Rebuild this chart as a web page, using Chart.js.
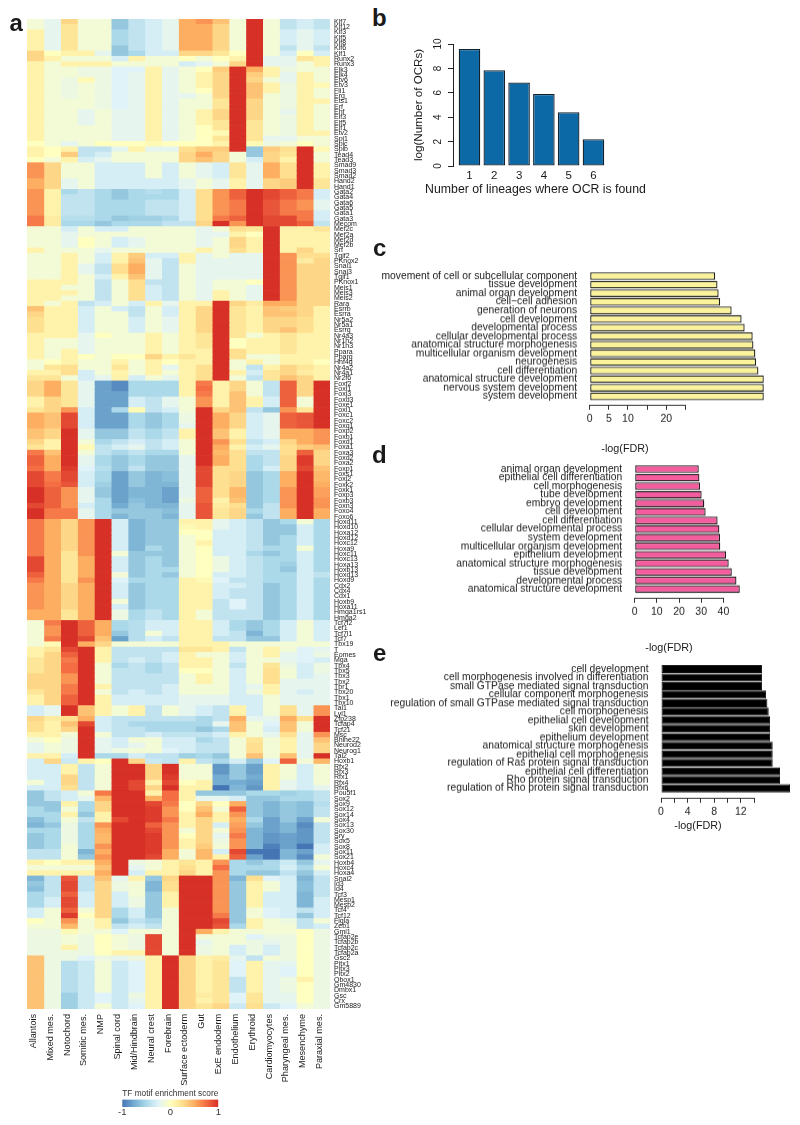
<!DOCTYPE html>
<html>
<head>
<meta charset="utf-8">
<title>TF motif enrichment</title>
<script src="https://cdn.jsdelivr.net/npm/chart.js@4/dist/chart.umd.min.js"></script>
<style>
html,body{margin:0;padding:0;background:#fff;width:800px;height:1125px;overflow:hidden;font-family:"Liberation Sans",Arial,sans-serif;color:#1a1a1a}
canvas{position:absolute;display:block}
.t{position:absolute;white-space:nowrap;line-height:1}
</style>
</head>
<body>
<script>
// ---------- panel a: heat map ----------
const heatColumns = ["Allantois","Mixed mes.","Notochord","Somitic mes.","NMP","Spinal cord","Mid/Hindbrain","Neural crest","Forebrain","Surface ectoderm","Gut","ExE endoderm","Endothelium","Erythroid","Cardiomyocytes","Pharyngeal mes.","Mesenchyme","Paraxial mes."];
const heatRowLabels = ["Klf7","Klf12","Klf3","Klf5","Klf8","Klf6","Klf1","Runx2","Runx3",
"Elk3","Elk4","Etv6","Etv3","Fli1","Erg","Ets1","Erf","Ehf","Elf3","Elf5","Elf1","Etv2","Spi1","Spic","Spib",
"Tead4","Tead3","Smad9","Smad3","Smad2","Hand2","Hand1","Gata2","Gata4","Gata6","Gata5","Gata1","Gata3","Mecom",
"Mef2c","Mef2a","Mef2d","Mef2b","Srf","Tgif2","PKnox2","Snai1","Snai3","Tgif1","PKnox1","Meis1","Meis3","Meis2",
"Rara","Esrrb","Esrra","Nr5a2","Nr5a1","Esrrg","Nr4a3","Nr1h2","Nr1h3","Ppara","Pparg","Hnf4g","Nr4a2","Nr4a1","Nr2f6",
"Foxf2","Foxl1","Foxj3","Foxd3","Foxe1","Foxi1","Foxc1","Foxc2","Foxq1","Foxp2","Foxb1","Foxd1","Foxa1","Foxa3","Foxd2","Foxa2","Foxp1","Foxs1","Foxj2","Foxk2","Foxk1","Foxp3","Foxb3","Foxn3","Foxo4","Foxo6",
"Hoxd11","Hoxd10","Hoxa12","Hoxd12","Hoxc12","Hoxa9","Hoxc11","Hoxc13","Hoxa13","Hoxb13","Hoxd13","Hoxd9","Cdx2","Cdx4","Cdx1","Hoxb9","Hoxa11","Hmga1rs1","Hmga2",
"Tcf7l2","Lef1","Tcf7l1","Tcf7","Tbx19","T","Eomes","Mga","Tbx4","Tbx5","Tbx3","Tbx2","Tbr1","Tbx20","Tbx1","Tbx10","Tal1","Lyl1","Zfp238","Tcfap4","Tcf21","Msc","Bhlhe22","Neurod2","Neurog1","Tal2",
"Hoxb1","Rfx2","Rfx3","Rfx1","Rfx4","Rfx6","Pou5f1","Sox2","Sox9","Sox12","Sox14","Sox4","Sox13","Sox30","Sry","Sox5","Sox8","Sox11","Sox21","Hoxb4","Hoxc4","Hoxa4","Snai2",
"Id3","Id4","Tcf3","Mesp1","Mesp2","Tcf4","Tcf12","Figla","Zeb1","Gmi1","Tcfap2e","Tcfap2b","Tcfap2c","Tcfap2a","Gsc2","Pitx1","Pitx3","Pitx2","Obox1","Gm4830","Dmbx1","Gsc","Crx","Gm5889"];

// enrichment score x 10, one row per motif, in heatColumns order
const scoresKlfRunx = [
[-1,-2,3,-1,-1,-6,-4,-3,-2,5,6,4,-1,10,-1,-4,-3,-4],
[-1,-2,2,-1,-1,-6,-4,-3,-2,5,5,3,-1,10,-1,-4,-3,-4],
[1,-2,2,-1,-1,-5,-4,-3,-2,5,5,3,-1,10,-1,-3,-2,-3],
[1,-2,2,-1,-1,-5,-4,-3,-2,5,5,3,-1,10,-1,-3,-2,-3],
[1,-2,2,-1,-1,-5,-4,-3,-2,5,5,3,-1,10,-1,-3,-2,-3],
[1,-2,2,-1,-1,-6,-4,-3,-2,5,5,3,-1,10,-1,-4,-2,-4],
[3,0,1,1,-2,-6,-5,-3,-3,3,3,2,0,10,-1,-3,0,-3],
[3,1,-1,-1,-1,-3,1,-1,-1,0,-1,0,1,10,-2,-2,2,1],
[1,-1,1,1,1,-1,-1,-1,-1,-3,-2,-1,3,10,-2,-2,-1,1]];
const scoresEts = [
[1,-1,-1,-1.5,-1.5,-2.5,-2.5,1,-2,-1,0,3.5,10,5,1,-1.5,-1,-1],
[1,-1,-1,-1.5,-1.5,-2.5,-2,1,-2,-1,1,3,10,3.5,1,-2,1,-1],
[1,-1,-1.5,0.5,-1.5,-2.5,-2,1,-2,-1,1,3,10,3,-1,-2,1,-1],
[1,-1,-1.5,-1,-1.5,-2.5,-2,1,-2,-1,1,3,10,4,1,-1.5,1,0.5],
[1,-1,-1.5,-1,-1.5,-2.5,-2,1,-2,-1,0,3,10,4,1,-1.5,1,-1],
[1,-1,-1.5,-1,-1.5,-2.5,-2,1,-2,-2,-1,3,10,4,-1,-1.5,1,-1],
[1,-1,-1,-1,-1.5,-2.5,-2,1,-2,-1,-1,2,10,3,-1,-1.5,1,1],
[1,-1,-1,-1,-1.5,-2.5,-2,1,-2,-1,-1,2,10,3,-1,-1.5,1,-1],
[1,-1,-1,-2,-1,-2,-2,1,-2,-1,1,3,10,3,-1,-2,1,-1],
[1,-1,-1,-2,-1,-2,-2,1,-2,-1,1,3,10,3,-1,-1.5,1,-1],
[1,-1,-1,-2,-1,-2,-2,1,-2,-1,1,2,10,2,-1,-1.5,1,-1],
[1,-1,-1,-1,-1,-2,-2,1,-2,-1,0,2,10,2,-1,-1.5,1,-1],
[1,-1,-1,-1,-1,-2,-2,1,-2,-1,0,0.5,10,2,-1,-1.5,1,1],
[1,-1,-1,-1,-1,-2,-2,1,-2,-1,0,2,10,2,-2,-2,-1,-1],
[0,-1,-2,-1,0,0,0,0.5,0,0,0,1,10,0.5,-1.5,-1,0,-1],
[1,0,1,-4,-4,-2,1,-2,-2,2.5,3.5,3.5,10,-6,3.5,2.5,10,0.5]];
const scoresTeadSmadHand = [
[1,0,3.5,-4,-3,-1,-1,-1,-1,3,5,3,-1,-6,3,2,10,-1],
[0,-1,1,-3,-2,-1,-1,-1,-1,3,4,3,-1,-3,3,1,10,-1],
[6,3,-1,-1,-3,-3,-3,-1,-3,-1,-2,-3,2,-2,5,2.5,10,1],
[6,3,-1,-1,-3,-3,-3,-1,-3,-1,-2,-3,2,-2,5,2.5,10,1],
[6,3,-1,-1,-3,-3,-3,-1,-3,-1,-2,-3,2,-2,5,2.5,10,1],
[5,3,-2,-1,-3,-3,-3,-3,-3,-2,-1,-2,1,-2,3,3.5,10,2],
[5,3,-2,-1,-3,-3,-3,-3,-3,-2,-1,-2,1,-2,3,3.5,10,2]];
const scoresGata = [
[6,1,-5,-4,-5,-6,-5,-4.5,-5,-3,2.5,6,8,10,9,8,7,-3],
[6,1,-4,-4,-5,-6,-5,-5,-5,-3,2.5,6,8,10,9,8,7,-3],
[6,1,-4,-4,-5,-5,-5,-4,-4,-3,2.5,6,7,10,8.5,7,6,-2],
[6,1,-4,-4,-5,-5,-5,-4,-4,-3,2.5,6,7,10,8.5,7,6,-2],
[6,1,-4,-4,-5,-5,-5,-4,-4,-3,2.5,6,7,10,8.5,7,7,-3],
[7,1.5,-4.5,-4.5,-5,-6,-5.5,-5.5,-5,-3,2.5,7,8,10,9,9,7,-3],
[7,1.5,-5,-5,-6,-5,-5,-5,-4,-4,3,10,6,10,9,9,8,-4]];
const scoresMef = [
[-1,-1,-3,-1,-3,-3,-1,-1,-1,-1,-2,-1,2.5,2,10,1,1,2],
[-1,-1,-2,-1,-1,-1,-1,-1,-1,-1,-2,-2,1,0,10,1,1,1],
[-1,-1,-2,0,-1,-3,-2,-1,-1,-1,-2,-1,3,1,10,1,1,1],
[-1,-1,-2,0,-1,-3,-2,-1,-1,-1,-2,-1,3,1,10,1,1,1],
[1,-1,-1,-1,-2,-1,-1,-1,-1,-1,1,-1,2.5,1,10,1,3,1]];
const scoresTgifMeis = [
[-1,-1,1,-1,-3,1,3.5,-3,-3,1,-2,-1,-2,-2,10,6,2.5,2.5],
[-1,-1,1,-1,-3,1,4,-2,-4,1,-2,-2,-2,-2,10,6,1.5,3],
[-1,-1,1,-2,-4,2.5,5,-2,-4,-1,-2,-2,-2,-2,10,6,3,3],
[-1,-1,1,-2,-4,2.5,5,-2,-4,-1,-2,-2,-2,-2,10,6,3,3],
[-1,-1,1,-1,-3,1,4,-2,-4,-1,-2,-2,-2,-2,10,6,3,3],
[1,1,1,-1,-4,-1,2.5,-4,-4,-1,-2,-1,-1,0,10,6,3,3],
[1,1,-1,-1,-4,-1,2.5,-3,-4,-1,-2,-1,-1,-2,10,6,3,3],
[1,1,1,-1,-4,-1,2.5,-3,-4,-1,-2,1,-1,-2,10,6,3,3],
[1,1,-1,-1,-4,-1,2.5,-3,-4,-1,-2,1,-1,-2,10,6,3,3]];
const scoresNuclear = [
[1,-1,1,-4,-3,-1,-3,1,-2,1,1,10,3,1.5,5,5,3,3],
[4,1,1,-3,-1,-3,-4,-1,-3,1,3,10,2,1,4,3.5,3,1],
[3,1,1,-3,-1,-1,-4,-1,-3,1,3,10,2,1,4,4,3,1],
[2.5,1,1,-3,-1,-1,-3,-1,-2,1,3,10,2,1,3,3,2.5,1],
[2.5,1,1,-3,-1,-1,-3,-1,-2,1,3,10,2,1,3,3,2.5,1],
[2.5,1,1,-3,-1,-1,-3,-1,-2,1,3,10,2,1,3,4,2.5,1],
[1,1,1,-2,0,-1,-1,1,-1,1,2,10,2,-1,1,2,1,1],
[1,-1,-1,-2,-1,-1,-1,1,-1,1,2,10,0,1,1,2,1,1],
[1,-1,-1,-2,-1,-1,-1,1,-1,1,2,10,0,1,1,2,1,1],
[1,-1,1,-2,-1,-1,-1,1,-1,1,1,10,2.5,1,1,2,1,1],
[1,-1,1,0,-1,0,0,3,1,2,1,10,2.5,-1,-1,1,1,1],
[-1,0,1,-1,-1,1,-1,1,0,1,1,10,-1,1,-1,1,1,0],
[-1,2,2.5,-1,-1,2,-1,1,-2,1,2.5,10,-1,-4,1,3,2,1],
[1,1,2.5,-3,-1,1,-1,1,-1,1,2.5,10,1,-3,2,3,1.5,1],
[2,2,-1,-3,-2,1,-3,-1,-2,1,2.5,10,-1,-4,2,4,3,1]];
const scoresFox = [
[3,5,2,-2,-8,-9,-5,-5,-5,1,7,1,3,-1,-4,8,3,10],
[3,5,2,-2,-8,-9,-5,-5,-5,1,7.5,1,3,-1,-4,8,3,10],
[3,5,2,-2,-8,-8,-5,-5,-5,1,7,1,4,-1,-4,8,3,10],
[1,3,2,-2,-8,-8,-3,-4,-2,-1,6,1,4,1,-3,8,-1,10],
[1,3,2,-2,-8,-8,-3,-4,-2,-1,6,1,4,1,-3,8,-1,10],
[2,3,6,-3,-8,-5,0.5,-4,-3,-1,10,3,4,-4,-6,6,2,10],
[5,4,9,-3,-8,-8,-5,-6,-5,-1.5,10,5,3,-3,-2,8,8.5,10],
[5,4,9,-3,-8,-8,-5,-6,-5,-1.5,10,5,3,-3,-2,8,8.5,10],
[5,4,9,-3,-8,-8,-5,-6,-5,-2,10,5,3,-3,-2,8,8.5,10],
[4,3,10,-2,-6,-6,-4,-5,-4,1,10,4,1,-3,-2,5,5,6],
[4,3,10,-2,-6,-6,-4,-5,-4,1,10,4,1,-3,-2,5,5,6],
[3,1,10,-1,-5,-4,-3,-4,-3,-1,10,6,2.5,-4,-3,3,5,6],
[2,1,10,0.5,-4,-3,-2,-4,-3,-1,10,5,1,-3,-2,2.5,3.5,4],
[7,4,10,-1,-4,-5,-4,-5,-5,-1,10,4.5,2.5,-4,-4,2.5,8,3],
[8,5,10,-2,-5,-6,-5,-6,-6,-2,10,5,2.5,-5,-4,3,9.5,3],
[8,5,10,-2,-5,-6,-5,-6,-6,-2,10,5,2.5,-5,-4,3,9.5,3],
[7.5,5,9.5,-2.5,-4.5,-6,-4,-6,-6,-2,9,2.5,2.5,-5,-3,3,9,4],
[9,7,9,-3,-5,-8,-6,-7,-6.5,-2,9,2.5,3,-6,-5,5,10,4.5],
[9,7,9,-3,-5,-8,-6,-7,-6.5,-2,9,2.5,3,-6,-5,5,10,4.5],
[9,7.5,8.5,-3,-5.5,-8,-6,-7,-7,-2,9,2.5,3,-6,-5,5,10,5],
[10,8,6,-2,-6,-8,-7,-7,-8,-2,8,2.5,4.5,-6,-5,6,10,5.5],
[10,8,6,-2,-6,-8,-7,-7,-8,-2,8,2.5,4.5,-6,-5,6,10,5.5],
[10,8,6,-2,-5,-8,-6.5,-7,-8,-1.5,8,1,4,-6,-5,6,10,6],
[9,8,6,-3,-5,-7.5,-6,-7,-7,-2,8.5,1.5,2.5,-6,-4,6,10,6],
[10,7,7,-2,-5,-6,-6,-6,-6.5,-2,8.5,2,3,-5,-4,5,10,5],
[10,7,7,-2,-5,-7,-6,-6,-7,-2,8.5,2,3,-6,-4,5,10,5]];
const scoresHoxCdx = [
[7,5,3,6,10,-3,-7,-6,-6,1,1,-2,-3,-4,-6,-5,-1,-5],
[7,5,3,6,10,-3,-7,-6,-6,0.5,1,-2,-3,-4,-6,-6,-3,-5],
[7,5,3,6,10,-3,-7,-6,-6,0,0,-3,-3,-4,-6,-6,-3,-5],
[7,5,3,6,10,-3,-7,-6,-6,-1,0,-3,-3,-4,-6,-5,-3,-5],
[7,5,3,6,10,-3,-7,-6,-6,-1,1,-3,-3,-4,-6,-5,-3,-5],
[7,5,3,6,10,-3,-7,-5,-6,-1,0,-3,-3,-4,-5,-5,-1,-5],
[7,5,2,6,10,-1,-6,-6,-6,-1,0,-3,-3,-5,-6,-5,-3,-5],
[9,5,2,5,10,-3,-6,-5,-6,-1,0,-1.5,-3,-4,-5,-5,-3,-5],
[9,5,2,5,10,-3,-6,-5,-6,-1,0,-1.5,-3,-4,-5,-5.5,-3,-5],
[9,5,2,5,10,-3,-6,-5,-5,-1,0,-1.5,-3,-4,-5,-6,-3,-5],
[8,5,2,5,10,-1,-6,-5,-6,-1,0,-3,-3,-4,-5,-5,-3,-4],
[7,5,2,6,10,-2.5,-5,-5,-5,1,0.5,-2.5,-4,-4,-5,-5,-3,-5],
[6,5,3,5,10,-3,-6,-5,-5,1,1,-3,-3,-4,-6,-5,-3,-5],
[6,5,3,5,10,-3,-6,-5,-5,1,1,-3,-4,-4,-6,-5,-3,-5],
[6,5,3,5,10,-3,-6,-5,-5,1,1,-3,-4,-4,-6,-5,-3,-5],
[6,5,3,5,10,-1,-6,-5,-5,1,1,-4,-2.5,-4,-6,-5,-3,-5],
[6,5,3,5,10,-3,-6,-5,-5,1,1,-4,-2.5,-4,-6,-5,-3,-5],
[5,5,2,5,10,-1.5,-5,-4,-5,1,-1,-4,-4,-4,-6,-5,-3,-5],
[5,5,2,5,10,-1.5,-5,-4,-5,1,-1,-4,-4,-4,-6,-5,-3,-5]];
const scoresTcfTbx = [
[-1,7,10,8,5,-5,-4.5,-3,-3,1,1,-3,-5,-6,-5,-3,-1,-3],
[-1,6,10,8,5,-5,-4.5,-3,-3,1,1,-3,-5,-6,-5,-3,-1,-3],
[-1,6,10,8,5,-6,-4.5,-1,-3,1,1,-3,-4,-7,-5,-3,-1,-3],
[-1,7,10,9,4,-8,-4.5,-3,-4,1,1,-4,-4,-6,-6,-3,-1,-3],
[-1,0.5,10,5,3,-1,-1,-1,-1,1,1,1,-1,-1,-1,-1,-1,-1],
[1,2,9,10,1,-4,-4,-4,-4,2,2,1,-4,-1,1,-1,-2.5,-2],
[1,3,8,10,1,-4,-4,-4,-3,1,-1,-1,-3,-1,1,-2,-2.5,-1.5],
[2,3,7,10,1,-4,-3,-4,-3,1,1,-1,-3,-1,-1,-2,-2.5,-3],
[2,3,7.5,10,-1,-5,-4,-5,-4,1,1,-1,-4,-1,2,-1.5,-3,-1.5],
[2,3,7.5,10,-1,-4,-4,-5,-4,0,0,-1,-3,-1,2.5,-1,-3,-1.5],
[3,3,6,10,-1,-4,-4,-4,-4,-1,1,-1,-3,-1,2.5,-1,-3,-2],
[3,3,6,10,-1,-4,-4,-4,-4,-1,1,-1,-3,-1,2.5,-2,-2,-2],
[3,3,7,10,1,-4,-4,-4,-3,-1,-1,-1,-3,-2,1,-2,-2,-2],
[2,3,7,10,-1,-4,-3,-4,-3,-1,-1,-1,-3,-1.5,1,-2,-3,-2],
[1,3,8,10,1,-3,-3,-3,-3,-2,-2,-2,-3,-3,-1,-2,-2,-2],
[1,3,8,10,1,-3,-3,-3,-3,-2,-2,-2,-3,-3,-1,-2,-2,-2]];
const scoresBhlh = [
[-3,-2,10,4,1,-1,1,-4,-1,-2,-3,-4,1,-3,-1,2.5,-2,6],
[-3,-2,10,4,1,-1,1,-4,-1,-2,-3,-4,1,-3,-1,2.5,-2,6],
[3,1.5,2.5,5,-3,-4,-4,-4,-4,-4,-5,-4,5,-2,-2,5,2.5,10],
[2.5,1,4,9,-3,-4,-5,-5,-5,-5,-5,-2,4,-1,-2.5,4,-1,10],
[2.5,1,3,10,-3,-4,-4,-5,-5,-5,-6,-5,4,-1,-3,4,-1,10],
[1,1,-1,10,-1,-4,-4,-3,-4,-4,-4,-3,1,-1,-2,2.5,-2,6],
[-1,0,-1.5,10,-2,-3,-1,-1,-3,-3,-5,-4,-1,2,-1,1,-2,4],
[-2,-1,-1.5,10,-2,-3,-2,-1,-3,-3,-4,-4,-1,2.5,-1,1,-2,3],
[-2,-1,-1.5,10,-2,-1.5,-1,-1,-2.5,-3,-4,-4,-1,2.5,-1,1,-2,3],
[1,1,-3,10,-5,-5,-3,-4,-4,-5.5,-5,-6,-1,4,-1,4,-2,10]];
const scoresHoxbRfx = [
[-3,3,-3.5,1,0,10,3,-3.5,-4,1,-4,-5,-3,-6,-2.5,8,-1,4.5],
[-3,-3,1,-4,-1,10,10,3,10,-1,-1,-8.5,-6,-8,1,-1,-3,-1],
[-3,-3,1,-4,-1,10,10,3,10,-1,-1,-8.5,-6,-8,1,-1,-3,-1],
[-3,-3,3,-4,-1,10,10,3,9.5,-1,-1,-7.5,-6,-7.5,1,-1,-3,-1],
[-1,-3,3,-4,-1,10,9,1,9,0,1,-7.5,-7.5,-8,1,-2,-3,-1],
[-3,-3,2.5,-4,-1,10,9,3,10,1,1,-10,-7,-8.5,1,-2,-3,-2]];
const scoresPouSox = [
[-6,-4,-3,-1,7,10,10,1,7.5,1,-6,-6,-6,-5,-5,-5.5,-5,-4],
[-6,-4,-3,-2,4.5,10,10,5,7.5,1,-2,-2,-3,-6,-6,-5,-5,-4],
[-6,-6,1,-5,3,10,10,9,7,0,3,0,5,-6,-7,-6,-6.5,-4.5],
[-5,-6,-1,-5,3,10,10,9.5,6,0,4,-1,8,-6,-7,-6,-6.5,-4],
[-5,-5,1,-6,1,10,10,9.5,6,1,5,1,6,-6,-7,-6,-6.5,-4],
[-6.5,-5,-1,-4,1,9,10,9.5,7,1,3,1,5,-5,-8,-6,-8,-1],
[-7,-6,-1.5,-5,6,10,10,8,6,1,3,-3,5.5,-6,-8,-7,-9,-4],
[-5,-5,-1.5,-5,5,10,10,9,6,-1,3,-1,6,-7,-8,-7,-8.5,-4],
[-6,-5,-1.5,-5,4.5,10,10,9.5,6,0,3,-2,7,-7,-8.5,-8,-8.5,-4],
[-6,-5,-1.5,-5,4.5,10,10,9.5,6,1,3,-1.5,6,-7,-8.5,-8,-8.5,-4],
[-6,-5,-1,-5,6,10,10,9.5,6,1,3.5,-1,6,-7,-9.5,-8,-10,-3],
[-4,-4,-1,-7,5,10,10,9.5,5,-1,4.5,-3,9,-10,-10,-7,-8,-3],
[-4,-4,-1,-6,6,10,10,9,5,-1,4.5,1,8,-8,-10,-7,-9,-1]];
const scoresHox4 = [
[1,0,1,1,5,10,-1.5,-1,1,2,1,6,-5,-6,-5,-3.5,-6,-2],
[-1,-1,-1,-1,4,10,-2,-1,1,2.5,1,7.5,-5,-5,-5,-3,-5,-1],
[1,1,1,1,5,10,-3,1,1,3,1,6,-5,-6,-6,-4,-6,-3]];
const scoresIdMesp = [
[-7,-4,8.5,-4,4,-2,1,-6,3,10,10,6,-7,2.5,-2.5,-3,-7,-4],
[-6,-4,9,-4,3,-1.5,-1,-7,2.5,10,10,6,-6,1,-1,-3,-6.5,-4],
[-6.5,-4,9,-4,3,-1.5,-1,-7,2.5,10,10,6,-6,1,-1,-3,-6.5,-4],
[-5,-4,8,-3,3,-3,-1,-6,1,10,10,6,-6,1,-3,-3,-7,-4],
[-5,-3,9,-3,3,-3,-1.5,-6,1,10,10,6,-6,1,-3,-3,-7,-3],
[-5,-3,9,-3,3,-3,-1.5,-6,1,10,10,6,-6,1,-3,-3,-7,-3],
[-3,-1,8,-1,3,-5,-3,-6,-1,10,10,6,-6,-1,-2.5,-3,-4,-3],
[-3,-1,9.5,0,3,-5,-3,-6,-1,10,10,7,-6,-1,-2.5,-3,-6,-3],
[0,-1,6,-1,1,-6,-4,-5,-1,10,10,9,-6,1,-1,-1.5,-4,-1],
[-1,-1,4.5,-1,1,-4,-3,-4,-1,10,10,8.5,-5,1,-1,-1,-4,-3],
[-1.5,-1.5,0.5,-1,-1,-2.5,-1,-1,-1,10,5,1,-1,-1,-1,-1,0,-1.5]];
const scoresTcfap = [
[-1.5,-1.5,-1,-1.5,0,-1,-1.5,9,-1,10,-1,-1,-1,-2.5,-1.5,-1.5,0,-1.5],
[-1.5,-1.5,-1,-1.5,0,-1,-1.5,9,-1,10,-2,-1,-1,-1.5,-2,-1.5,0,-1.5],
[-1.5,-1.5,1,-1.5,0,-1,-1.5,9,-1,10,-1.5,-1,-3,-1.5,-3,-1.5,0,-1.5],
[-1.5,-1.5,-1.5,-1.5,0,1,1,9,-1,10,-1.5,-1,-3,-1.5,-3,-1.5,0,-1.5]];
const scoresPitxOtx = [
[4,-1.5,-1.5,-2.5,-1.5,-2,-1.5,1,10,3,1,1.5,-2,-4,-1,-1.5,0,-1.5],
[4,-1.5,-4.5,-3.5,-1,-3.5,-2.5,1,10,3,1,2,-2.5,1,-2,-2,0,-1.5],
[4,-1.5,-4.5,-3.5,-1,-3.5,-2.5,1,10,3,1,2,-2.5,1,-2,-2.5,0,-1.5],
[4,-1.5,-4.5,-3.5,-1,-3.5,-2.5,1,10,3,1,2,-2.5,1,-2,-2.5,0,-1.5],
[4,-1.5,-4.5,-3.5,-1,-3.5,-2.5,1,10,3,1,2,-4,1,-2,-1.5,1,-1.5],
[4,-1.5,-4.5,-3.5,-1,-3.5,-2.5,1,10,3,1,2,-4,1,-2,-1.5,0,-1.5],
[4,-1.5,-4.5,-3.5,-1,-3.5,-2.5,1,10,3,1,2,-4,1,-2,-1.5,0,-1.5],
[4,-1.5,-5.5,-3.5,-2.5,-3.5,-1.5,1,10,3,1.5,2,-2.5,2,-2,-2,0,-1.5],
[4,-1.5,-5.5,-3.5,-2.5,-3.5,-2,1,10,3,1,2,-2.5,2,-2,-2,0,-1.5],
[4,-1.5,-5.5,-3.5,-1,-3.5,-2.5,1,10,3,2,3,-3.5,2.5,-3.5,-2.5,-1,-1.5]];
const heatScores = [].concat(scoresKlfRunx,scoresEts,scoresTeadSmadHand,scoresGata,scoresMef,scoresTgifMeis,scoresNuclear,scoresFox,scoresHoxCdx,scoresTcfTbx,scoresBhlh,scoresHoxbRfx,scoresPouSox,scoresHox4,scoresIdMesp,scoresTcfap,scoresPitxOtx);

// ---------- panel b ----------
const lineageCounts = [1,2,3,4,5,6];
const logOcrs = [9.6,7.85,6.85,5.9,4.4,2.2];
// ---------- panel c ----------
const goYellowLabels = ["movement of cell or subcellular component","tissue development","animal organ development","cell\u2212cell adhesion","generation of neurons","cell development","developmental process","cellular developmental process","anatomical structure morphogenesis","multicellular organism development","neurogenesis","cell differentiation","anatomical structure development","nervous system development","system development"];
const goYellowValues = [32.8,33.4,33.7,34.1,37.1,39.7,40.5,42.6,42.8,43.3,43.5,44.1,45.5,45.5,45.5];
// ---------- panel d ----------
const goPinkLabels = ["animal organ development","epithelial cell differentiation","cell morphogenesis","tube development","embryo development","cell development","cell differentiation","cellular developmental process","system development","multicellular organism development","epithelium development","anatomical structure morphogenesis","tissue development","developmental process","anatomical structure development"];
const goPinkValues = [28.9,29.2,29.5,30.2,31.4,32,37.4,38.2,38.5,38.6,41.2,42.4,43.8,45.9,47.4];
// ---------- panel e ----------
const goBlackLabels = ["cell development","cell morphogenesis involved in differentiation","small GTPase mediated signal transduction","cellular component morphogenesis","regulation of small GTPase mediated signal transduction","cell morphogenesis","epithelial cell development","skin development","epithelium development","anatomical structure morphogenesis","epithelial cell morphogenesis","regulation of Ras protein signal transduction","epithelial cell differentiation","Rho protein signal transduction","regulation of Rho protein signal transduction"];
const goBlackValues = [15.2,15.2,15.2,15.8,16,16.2,16.4,16.4,16.4,16.8,16.8,16.8,17.9,17.9,19.4];
// ---------- colour key ----------
const keyTicks = [-1,0,1];
const keyStops = ["#4575b4","#74add1","#abd9e9","#e0f3f8","#ffffbf","#fee090","#fdae61","#f46d43","#d73027"];

const FONT = '"Liberation Sans", Arial, sans-serif';
const INK = '#1a1a1a';
Chart.defaults.font.family = FONT;
Chart.defaults.color = INK;
Chart.defaults.animation = false;
Chart.defaults.responsive = false;
Chart.defaults.plugins.legend.display = false;
Chart.defaults.plugins.tooltip.enabled = false;

function rgb(h){return [1,3,5].map(i=>parseInt(h.substr(i,2),16));}
function scoreColor(s){
  const p=(Math.max(-1,Math.min(1,s))+1)*4, i=Math.min(7,Math.floor(p)), f=p-i;
  const a=rgb(keyStops[i]), b=rgb(keyStops[i+1]);
  return 'rgb('+a.map((v,k)=>Math.round(v+(b[k]-v)*f)).join(',')+')';
}
function canvasAt(l,t,w,h){
  const c=document.createElement('canvas');
  c.width=w;c.height=h;c.style.left=l+'px';c.style.top=t+'px';c.style.width=w+'px';c.style.height=h+'px';
  document.body.appendChild(c);return c;
}
function text(s,x,y,size,opts){
  const d=document.createElement('div');d.className='t';d.textContent=s;
  d.style.left=x+'px';d.style.top=y+'px';d.style.fontSize=size+'px';
  if(opts&&opts.bold)d.style.fontWeight='bold';
  if(opts&&opts.center)d.style.transform='translate(-50%,-50%)';
  document.body.appendChild(d);
}
const fixed=(w,h)=>s=>{ if(w!=null)s.width=w; if(h!=null)s.height=h; s.paddingLeft=s.paddingRight=s.paddingTop=s.paddingBottom=0; };

// panel a
new Chart(canvasAt(0,0,370,1125),{
  type:'bar',
  data:{labels:heatRowLabels,datasets:heatColumns.map((name,c)=>({
    label:name,
    data:heatRowLabels.map(()=>1),
    backgroundColor:heatScores.map(r=>scoreColor(r[c]/10)),
    borderWidth:0,barPercentage:1,categoryPercentage:1
  }))},
  options:{indexAxis:'y',
    layout:{padding:{left:27,top:19,right:0,bottom:0}},
    scales:{
      x:{stacked:true,display:false,min:0,max:heatColumns.length},
      y:{stacked:true,position:'right',offset:true,grid:{display:false,drawTicks:false},border:{display:false},
         afterFit:fixed(40,null),
         ticks:{autoSkip:false,font:{size:7},padding:4,color:INK}},
      columnAxis:{type:'category',labels:heatColumns,offset:true,position:'bottom',grid:{display:false,drawTicks:false},border:{display:false},
         afterFit:fixed(null,116),
         ticks:{autoSkip:false,minRotation:90,maxRotation:90,labelOffset:-2,font:{size:9.1},padding:5,color:INK}}
    }}
});

// panel b
new Chart(canvasAt(400,30,260,175),{
  type:'bar',
  data:{labels:lineageCounts,datasets:[{data:lineageCounts.map((v,i)=>({x:v,y:logOcrs[i]})),backgroundColor:'#0d69a6',borderColor:'#14202a',borderWidth:1.3,borderSkipped:false,barPercentage:.87,categoryPercentage:1}]},
  options:{
    layout:{padding:{top:14,right:42,left:0,bottom:0}},
    scales:{
      x:{type:'linear',offset:false,min:0.335,max:6.99,grid:{display:false,drawTicks:false,offset:false},border:{display:false},
         afterFit:fixed(null,39),
         ticks:{stepSize:1,includeBounds:false,font:{size:11.5},padding:3,color:INK}},
      y:{min:0,max:10,grid:{drawOnChartArea:false,tickLength:5,tickColor:'#222'},border:{display:true,color:'#222'},
         afterFit:fixed(53,null),
         ticks:{stepSize:2,minRotation:90,maxRotation:90,crossAlign:'center',font:{size:10},padding:4.5,color:INK},
         title:{display:true,text:'log(Number of OCRs)',font:{size:11.6},padding:{top:12,bottom:0},color:INK}}
    }}
});
text('Number of lineages where OCR is found',535.5,189,12.3,{center:true});

// panels c, d, e
function goBars(cfg){
  const T=cfg.center1-12, B=cfg.axisY+45;
  const L=365, R=800, H=B-T;
  const pxPerUnit=cfg.pxPerUnit, xMax=cfg.xMax;
  const areaRight=cfg.zero+xMax*pxPerUnit;
  const top=cfg.center1-5;
  new Chart(canvasAt(L,T,R-L,H),{
    type:'bar',
    data:{labels:cfg.labels,datasets:[{data:cfg.labels.map((_,i)=>({y:i+1,x:cfg.values[i]})),backgroundColor:cfg.fill,borderColor:cfg.stroke,borderWidth:cfg.strokeWidth,borderSkipped:false,barPercentage:cfg.barShare,categoryPercentage:1}]},
    options:{indexAxis:'y',
      layout:{padding:{left:0,top:top-T,right:R-areaRight,bottom:0}},
      scales:{
        x:{type:'linear',min:0,max:xMax,grid:{drawOnChartArea:false,tickLength:5,tickColor:c=>c.tick&&c.tick.value<=cfg.axisMax?'#333':'transparent'},border:{display:false},
           afterFit:fixed(null,B-cfg.axisY),
           ticks:{stepSize:cfg.step,autoSkip:false,includeBounds:false,maxRotation:0,font:{size:10.5},padding:3,color:INK,callback:v=>cfg.tickLabels.includes(v)?String(v):''}},
        y:{type:'linear',offset:false,reverse:true,min:1-(cfg.center1-top)/cfg.spacing,max:1+(cfg.axisY-cfg.center1)/cfg.spacing,grid:{display:false,drawTicks:false,offset:false},border:{display:false},
           afterFit:fixed(cfg.zero-L,null),
           ticks:{stepSize:1,autoSkip:false,includeBounds:false,font:{size:10.3},padding:cfg.labelGap,color:INK,callback:v=>cfg.labels[v-1]||''}}
      }},
    plugins:[{id:'shortAxis',afterDraw(ch){const s=ch.scales.x,c=ch.ctx,y=Math.round(ch.chartArea.bottom)+.5;c.save();c.strokeStyle='#333';c.lineWidth=1;c.beginPath();c.moveTo(s.getPixelForValue(0),y);c.lineTo(s.getPixelForValue(cfg.axisMax),y);c.stroke();c.restore();}}]
  });
}
goBars({labels:goYellowLabels,values:goYellowValues,fill:'#fbf39b',stroke:'#1e1e18',strokeWidth:1.3,barShare:.9,zero:589.7,pxPerUnit:3.826,xMax:46,axisMax:25,step:5,tickLabels:[0,5,10,20],center1:276.3,spacing:8.57,axisY:404.7,labelGap:12.5});
goBars({labels:goPinkLabels,values:goPinkValues,fill:'#f45c9e',stroke:'#221a1e',strokeWidth:1.3,barShare:.9,zero:634.7,pxPerUnit:2.217,xMax:48,axisMax:40,step:10,tickLabels:[0,10,20,30,40],center1:469.3,spacing:8.55,axisY:597.7,labelGap:12.5});
goBars({labels:goBlackLabels,values:goBlackValues,fill:'#000000',stroke:'#111111',strokeWidth:1,barShare:.95,zero:661,pxPerUnit:6.65,xMax:20,axisMax:14,step:2,tickLabels:[0,4,8,12],center1:669,spacing:8.52,axisY:797.7,labelGap:12.5});

text('-log(FDR)',625,448,10.8,{center:true});
text('-log(FDR)',669,646.7,10.8,{center:true});
text('-log(FDR)',698,825,10.8,{center:true});

// colour key
new Chart(canvasAt(100,1088,140,32),{
  type:'bar',
  data:{labels:['score'],datasets:[{data:[[keyTicks[0],keyTicks[2]]],barPercentage:1,categoryPercentage:1,borderWidth:0,
    backgroundColor:c=>{const a=c.chart.chartArea;if(!a)return keyStops[0];const g=c.chart.ctx.createLinearGradient(a.left,0,a.right,0);keyStops.forEach((k,i)=>g.addColorStop(i/(keyStops.length-1),k));return g;}}]},
  options:{indexAxis:'y',
    layout:{padding:{left:22.3,right:21.7,top:0,bottom:0}},
    plugins:{title:{display:true,text:'TF motif enrichment score',font:{size:9.6,weight:'normal'},padding:{top:0,bottom:0},color:'#333'}},
    scales:{
      x:{min:-1,max:1,grid:{display:false,drawTicks:false},border:{display:false},afterFit:fixed(null,13),
         ticks:{stepSize:1,maxRotation:0,font:{size:9.5},padding:0,color:'#333'}},
      y:{display:false}
    }}
});

// panel letters
text('a',9.5,10.7,24,{bold:true});
text('b',372,6.4,24,{bold:true});
text('c',373,235.7,24,{bold:true});
text('d',372,442.7,24,{bold:true});
text('e',373,641.4,24,{bold:true});
</script>
</body>
</html>
